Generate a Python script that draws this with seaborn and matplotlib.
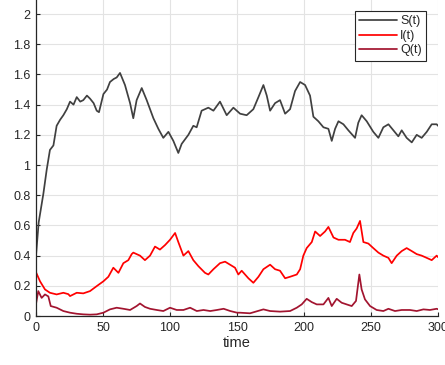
import pandas as pd
import matplotlib
matplotlib.use("Agg")
import matplotlib.pyplot as plt
import seaborn as sns

# ── values ───────────────────────────────────────────────────────────────────
t_s = [0, 2, 5.5, 8, 10.4, 13, 15.4, 18, 20.4, 23, 25.4, 28, 30.4, 33, 35.3, 38, 40.3, 43, 45.3,
       47, 50.3, 53, 55.2, 58, 60.2, 62.7, 66.4, 70.2, 72.6, 75.1, 78.9, 82.6, 87.6, 91.3, 95,
       98.8, 102.5, 106.2, 108.7, 113.7, 117.4, 119.9, 123.6, 128.6, 132.4, 137.3, 142.3, 147.3,
       152.3, 157.2, 162.2, 166, 169.7, 172.2, 174.7, 178.4, 182.1, 185.9, 189.6, 193.3, 197.1,
       200.8, 204.5, 207, 210.7, 214.5, 218.2, 220.7, 223.2, 225.7, 229.4, 233.1, 238.1, 240.5,
       243, 246.8, 251.7, 255.5, 259.2, 263, 266.7, 270.4, 272.9, 276.6, 280.4, 284.1, 287.8,
       291.6, 295.3, 299, 300]
s_vals = [0.40, 0.62, 0.81, 0.97, 1.10, 1.13, 1.26, 1.30, 1.33, 1.37, 1.42, 1.40, 1.45, 1.42,
          1.43, 1.46, 1.44, 1.41, 1.36, 1.35, 1.47, 1.50, 1.55, 1.57, 1.58, 1.61, 1.53, 1.41,
          1.31, 1.43, 1.51, 1.43, 1.31, 1.24, 1.18, 1.22, 1.16, 1.08, 1.14, 1.20, 1.26, 1.25,
          1.36, 1.38, 1.36, 1.42, 1.33, 1.38, 1.34, 1.33, 1.37, 1.45, 1.53, 1.46, 1.36, 1.41,
          1.43, 1.34, 1.37, 1.49, 1.55, 1.53, 1.46, 1.32, 1.29, 1.25, 1.24, 1.16, 1.24, 1.29,
          1.27, 1.23, 1.18, 1.28, 1.33, 1.29, 1.22, 1.18, 1.25, 1.27, 1.23, 1.19, 1.23, 1.18,
          1.15, 1.20, 1.18, 1.22, 1.27, 1.27, 1.26]

t_i = [0, 3, 6.7, 10.4, 15.4, 20.4, 24.1, 25.4, 30.4, 35.3, 40.3, 45.3, 50.3, 54, 57.7, 61.5,
       65.2, 68.9, 71.4, 72.6, 77.6, 81.3, 85.1, 88.8, 92.5, 96.3, 100, 103.8, 106.2, 110,
       113.7, 117.4, 121.2, 126.1, 128.6, 132.4, 137.3, 141.1, 144.8, 148.5, 151, 153.5, 158.5,
       162.2, 166, 169.7, 174.7, 178.4, 182.1, 185.9, 189.6, 194.6, 197.1, 199.5, 202, 205.8,
       208.3, 212, 215.7, 218.2, 222, 225.7, 230.6, 234.3, 236.8, 239.3, 241.8, 244.3, 248,
       251.7, 255.5, 259.2, 263, 265.4, 269.2, 272.9, 276.6, 280.4, 284.1, 287.8, 291.6, 295.3,
       299, 300]
i_vals = [0.29, 0.23, 0.176, 0.154, 0.143, 0.154, 0.145, 0.132, 0.154, 0.150, 0.165, 0.198,
          0.23, 0.26, 0.32, 0.286, 0.35, 0.37, 0.41, 0.42, 0.40, 0.37, 0.40, 0.46, 0.44, 0.47,
          0.505, 0.55, 0.49, 0.40, 0.43, 0.37, 0.33, 0.286, 0.275, 0.31, 0.35, 0.36, 0.34,
          0.32, 0.275, 0.30, 0.25, 0.22, 0.26, 0.31, 0.34, 0.31, 0.30, 0.25, 0.26, 0.275, 0.31,
          0.40, 0.45, 0.49, 0.56, 0.53, 0.56, 0.59, 0.52, 0.505, 0.505, 0.49, 0.55, 0.58, 0.63,
          0.49, 0.48, 0.45, 0.42, 0.40, 0.385, 0.35, 0.40, 0.43, 0.45, 0.43, 0.41, 0.40, 0.385,
          0.37, 0.40, 0.39]

t_q = [0, 1.7, 4.2, 6.7, 9.2, 11, 15.4, 20.4, 25.4, 30.4, 35.3, 40.3, 45.3, 50.3, 55.2, 60.2,
       65.2, 70.2, 75.1, 77.6, 81.3, 85.1, 90.1, 95, 100, 105, 110, 115, 120, 125, 130, 135,
       140, 145, 150, 152.3, 159.7, 169.7, 174.7, 182.1, 189.6, 194.6, 198.3, 202, 205.8, 209.5,
       214.5, 218.2, 220.7, 224.4, 228.1, 231.8, 235.6, 238.8, 241.3, 243, 245.5, 249.3, 254.2,
       259.2, 263, 267.9, 272.9, 279.1, 284.1, 289.1, 294, 299, 300]
q_vals = [0.08, 0.165, 0.12, 0.143, 0.13, 0.066, 0.055, 0.033, 0.022, 0.015, 0.011, 0.009,
          0.011, 0.022, 0.044, 0.055, 0.048, 0.040, 0.066, 0.083, 0.060, 0.048, 0.040, 0.033,
          0.055, 0.040, 0.040, 0.055, 0.033, 0.040, 0.033, 0.040, 0.048, 0.033, 0.022, 0.022,
          0.018, 0.044, 0.033, 0.029, 0.033, 0.055, 0.077, 0.114, 0.092, 0.077, 0.077, 0.12,
          0.066, 0.114, 0.088, 0.077, 0.066, 0.10, 0.275, 0.176, 0.11, 0.066, 0.040, 0.033,
          0.048, 0.033, 0.040, 0.040, 0.033, 0.044, 0.040, 0.048, 0.045]

series_names = ["S(t)", "I(t)", "Q(t)"]
series_colors = ["#404040", "#FF0000", "#A2142F"]

df = pd.concat([
    pd.DataFrame({"time": t_s, "value": s_vals, "series": "S(t)"}),
    pd.DataFrame({"time": t_i, "value": i_vals, "series": "I(t)"}),
    pd.DataFrame({"time": t_q, "value": q_vals, "series": "Q(t)"}),
])

sns.set_style("whitegrid")
plt.rcParams["font.family"] = ["Liberation Sans", "DejaVu Sans"]

fig = plt.figure(figsize=(4.45, 3.65), dpi=100)
ax = fig.add_axes([0.0809, 0.1342, 0.9034, 0.910])

sns.lineplot(data=df, x="time", y="value", hue="series", hue_order=series_names,
             palette=series_colors, estimator=None, sort=False, linewidth=1.25, ax=ax)

ax.set_xlim(0, 300)
ax.set_ylim(0, 2.2)
ax.set_xticks([0, 50, 100, 150, 200, 250, 300])
ax.set_yticks([0, 0.2, 0.4, 0.6, 0.8, 1, 1.2, 1.4, 1.6, 1.8, 2])
ax.set_yticklabels(["0", "0.2", "0.4", "0.6", "0.8", "1", "1.2", "1.4", "1.6", "1.8", "2"])
ax.set_xlabel("time", fontsize=10.5, color="#262626", labelpad=2)
ax.set_ylabel("")
ax.grid(True, color="#e3e3e3", linewidth=0.8)
ax.tick_params(axis="both", direction="in", length=3, width=0.8, colors="#262626",
               labelsize=9, pad=4, left=True, bottom=True)
for side in ["top", "right"]:
    ax.spines[side].set_visible(False)
for side in ["left", "bottom"]:
    ax.spines[side].set_color("#262626")
    ax.spines[side].set_linewidth(0.9)

leg = ax.legend(loc="upper right", bbox_to_anchor=(426 / 445, 354 / 365), bbox_transform=fig.transFigure,
                fontsize=9, frameon=True, fancybox=False, framealpha=1, edgecolor="#262626",
                handlelength=3.0, handletextpad=0.25, borderpad=0.35, labelspacing=0.2,
                borderaxespad=0)
leg.get_frame().set_linewidth(0.8)

fig.savefig("out.png", dpi=100)
